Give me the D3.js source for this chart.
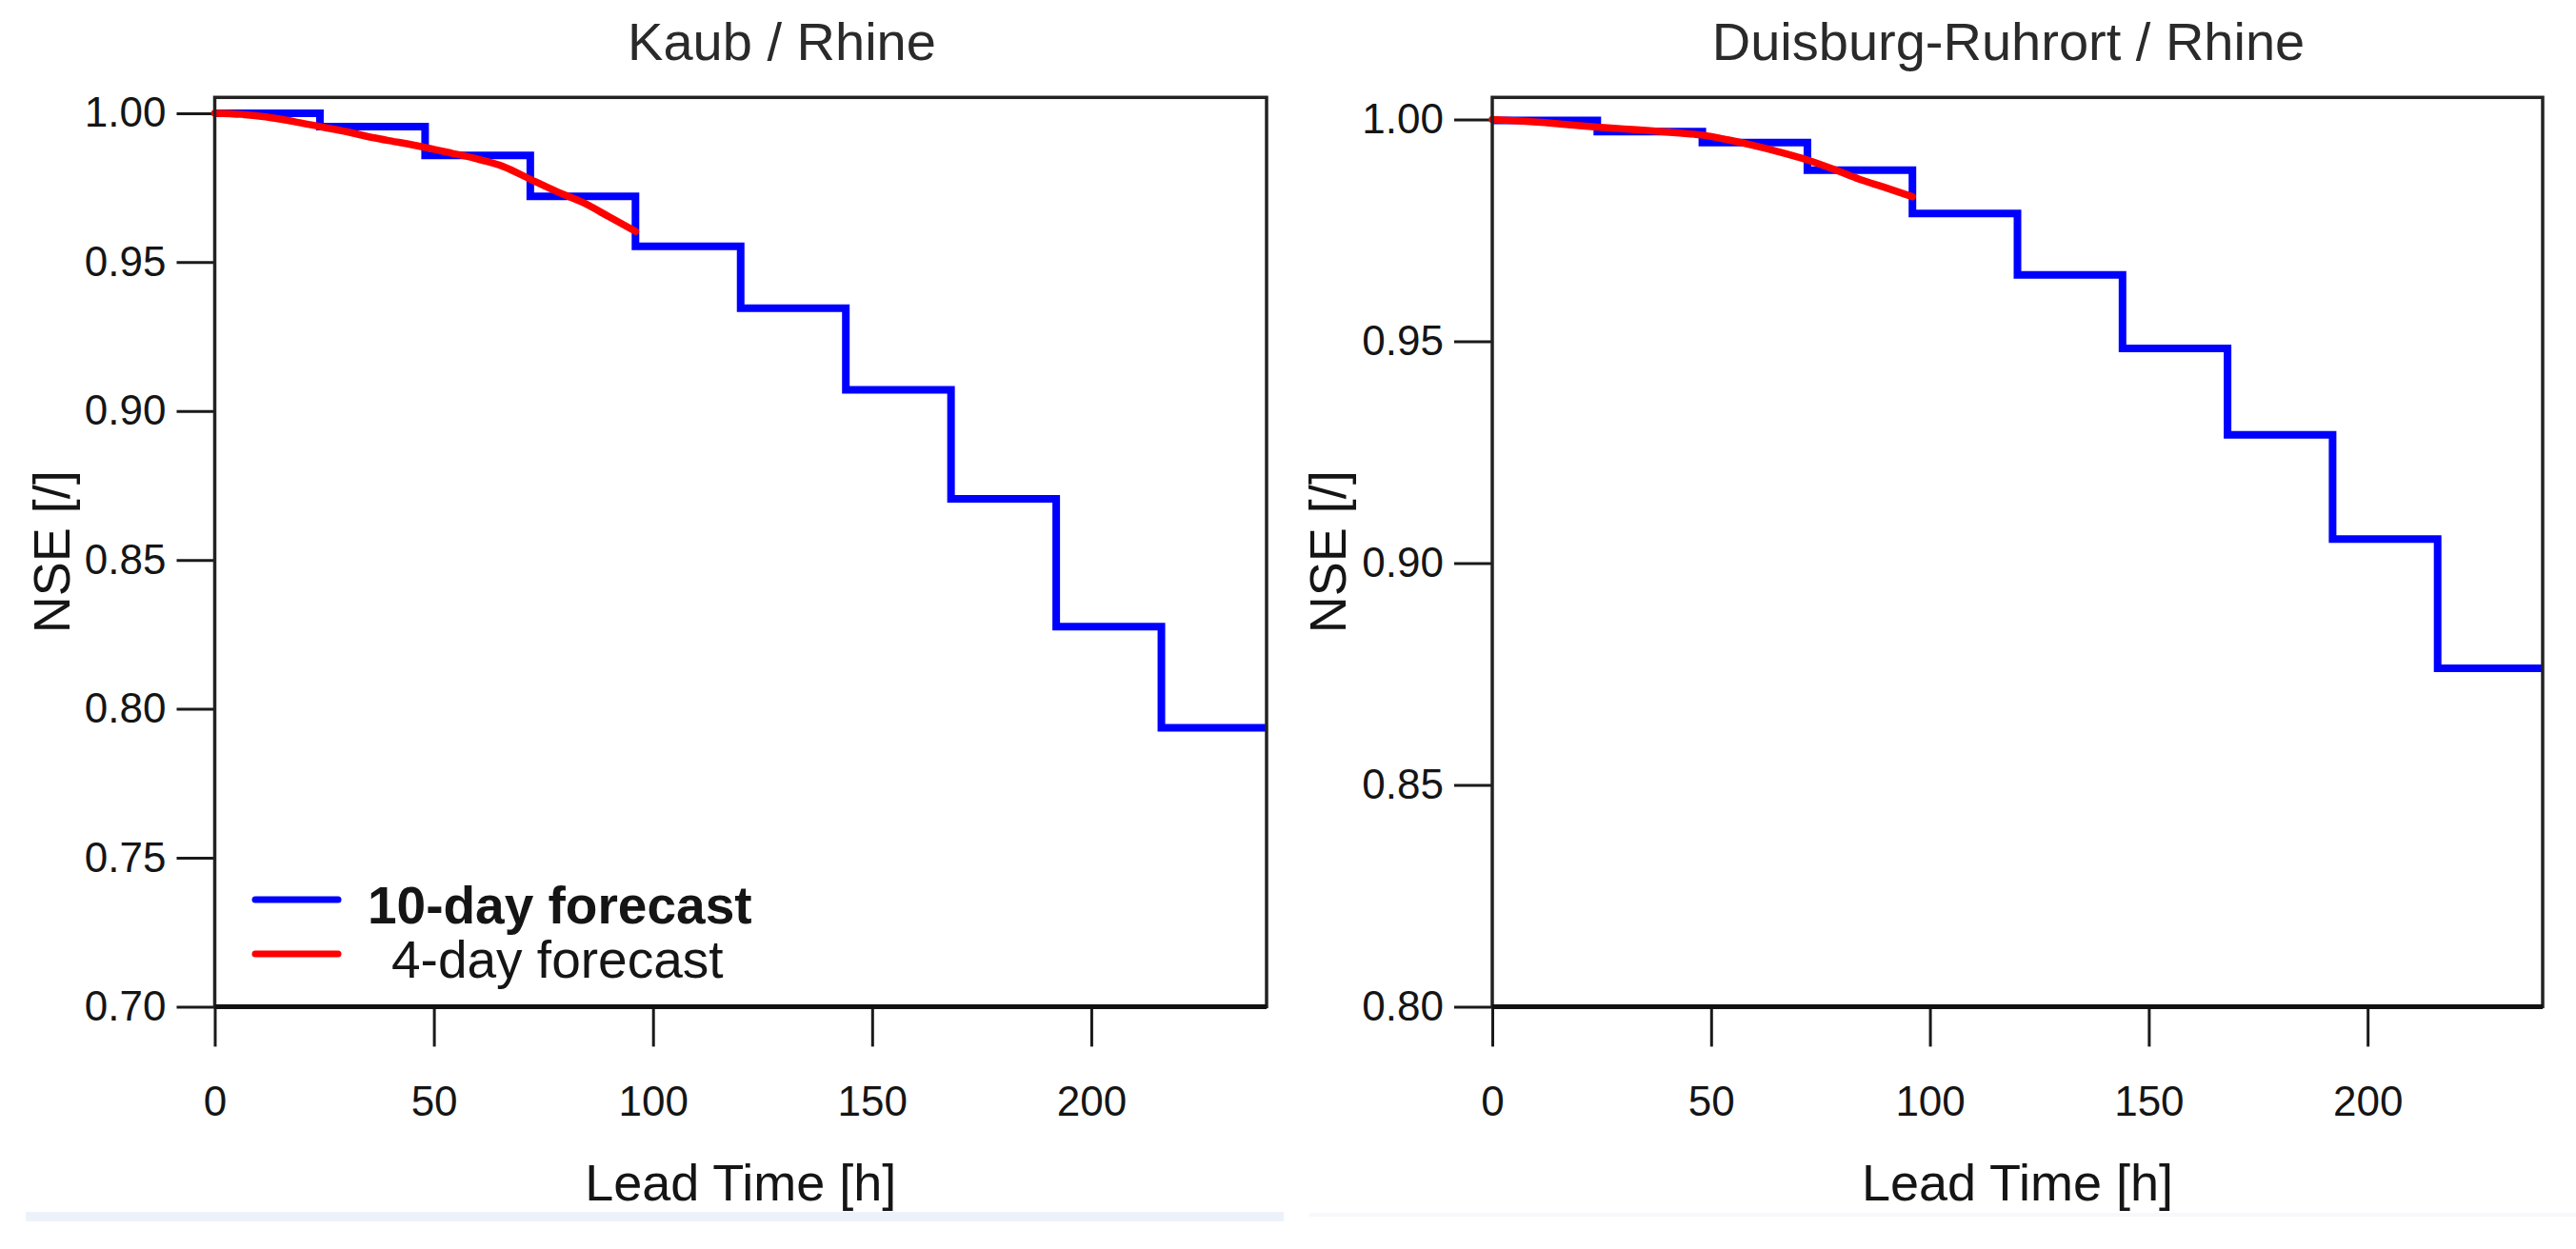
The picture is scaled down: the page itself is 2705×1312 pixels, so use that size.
<!DOCTYPE html>
<html lang="en">
<head>
    <meta charset="UTF-8">
    <title>NSE vs Lead Time</title>
    <script src="https://d3js.org/d3.v7.min.js"></script>
    <style>
        body {
            margin: 0;
            background: #ffffff;
            font-family: 'Liberation Sans', Arial, sans-serif;
        }
        .tick text {
            font-size: 44px;
            fill: #151515;
            font-family: 'Liberation Sans', Arial, sans-serif;
        }
        .tick line {
            stroke: #1a1a1a;
            stroke-width: 3px;
        }
        .title {
            font-size: 56px;
            fill: #2a2a2a;
            text-anchor: middle;
        }
        .axis-label {
            font-size: 54px;
            fill: #151515;
            text-anchor: middle;
        }
        .legend-text {
            font-size: 55px;
            fill: #151515;
        }
    </style>
</head>
<body>
    <div id="chart"></div>

    <script>
        // lead time (h) where each 10-day step starts, last point closes the final step
        const leadSteps = [0, 24, 48, 72, 96, 120, 144, 168, 192, 216, 240];
        const kaub10 = [1.000, 0.9955, 0.9858, 0.9721, 0.9553, 0.9345, 0.9071, 0.8705, 0.8276, 0.7936, 0.7936];
        const duisburg10 = [0.9998, 0.9973, 0.9948, 0.9886, 0.9788, 0.9650, 0.9484, 0.9289, 0.9054, 0.8763, 0.8763];

        // 4-day forecast curve
        const lead4 = [0, 6, 12, 18, 24, 30, 36, 42, 48, 54, 60, 66, 72, 78, 84, 90, 96];
        const kaub4 = [1.000, 0.9996, 0.9987, 0.9972, 0.9955, 0.9938, 0.9918, 0.9902, 0.9885, 0.9866, 0.9846, 0.9820, 0.9778, 0.9737, 0.9700, 0.9652, 0.9603];
        const duisburg4 = [1.000, 0.9997, 0.9993, 0.9988, 0.9983, 0.9979, 0.9975, 0.9970, 0.9965, 0.9954, 0.9941, 0.9926, 0.9909, 0.9888, 0.9865, 0.9846, 0.9826];

        const xTicks = [0, 50, 100, 150, 200];
        const kaubTicks = [0.70, 0.75, 0.80, 0.85, 0.90, 0.95, 1.00];
        const duisburgTicks = [0.80, 0.85, 0.90, 0.95, 1.00];

        const width = 2705;
        const height = 1312;

        const svg = d3.select("#chart")
            .append("svg")
            .attr("width", width)
            .attr("height", height);

        // faint strips under the panels
        svg.append("rect").attr("x", 27).attr("y", 1273).attr("width", 1321).attr("height", 10).attr("fill", "#edf2fa");
        svg.append("rect").attr("x", 1375).attr("y", 1274).attr("width", 1330).attr("height", 4).attr("fill", "#f6f8fb");

        const panels = [
            {title: "Kaub / Rhine", left: 225.5, right: 1330, top: 102.3, bottom: 1057.4,
             yDomain: [0.70, 1.0053], yTicks: kaubTicks, ten: kaub10, four: kaub4,
             titleX: 821, yLabelX: 73, legend: true},
            {title: "Duisburg-Ruhrort / Rhine", left: 1567, right: 2670, top: 102.3, bottom: 1057.4,
             yDomain: [0.80, 1.005], yTicks: duisburgTicks, ten: duisburg10, four: duisburg4,
             titleX: 2109, yLabelX: 1413, legend: false}
        ];

        panels.forEach(p => {
            const x = d3.scaleLinear().domain([0, 240]).range([p.left, p.right]);
            const y = d3.scaleLinear().domain(p.yDomain).range([p.bottom, p.top]);
            const g = svg.append("g");

            // x axis
            g.append("g")
                .attr("transform", `translate(0,${p.bottom})`)
                .call(d3.axisBottom(x).tickValues(xTicks).tickSize(42).tickPadding(41).tickFormat(d3.format("d")))
                .call(a => a.select(".domain").remove());

            // y axis
            g.append("g")
                .attr("transform", `translate(${p.left},0)`)
                .call(d3.axisLeft(y).tickValues(p.yTicks).tickSize(40).tickPadding(11).tickFormat(d3.format(".2f")))
                .call(a => a.select(".domain").remove());

            // step line (10-day)
            const stepLine = d3.line()
                .x((d, i) => x(leadSteps[i]))
                .y(d => y(d))
                .curve(d3.curveStepAfter);

            g.append("path")
                .datum(p.ten)
                .attr("d", stepLine)
                .attr("fill", "none")
                .attr("stroke", "#0000ff")
                .attr("stroke-width", 8);

            // 4-day curve
            const curve = d3.line()
                .x((d, i) => x(lead4[i]))
                .y(d => y(d))
                .curve(d3.curveMonotoneX);

            g.append("path")
                .datum(p.four)
                .attr("d", curve)
                .attr("fill", "none")
                .attr("stroke", "#ff0000")
                .attr("stroke-width", 7.5)
                .attr("stroke-linecap", "round");

            // frame
            g.append("rect")
                .attr("x", p.left)
                .attr("y", p.top)
                .attr("width", p.right - p.left)
                .attr("height", p.bottom - p.top)
                .attr("fill", "none")
                .attr("stroke", "#222")
                .attr("stroke-width", 3.5);
            g.append("line")
                .attr("x1", p.left).attr("x2", p.right)
                .attr("y1", p.bottom).attr("y2", p.bottom)
                .attr("stroke", "#111")
                .attr("stroke-width", 5);

            // titles and labels
            svg.append("text")
                .attr("class", "title")
                .attr("x", p.titleX)
                .attr("y", 63)
                .text(p.title);

            svg.append("text")
                .attr("class", "axis-label")
                .attr("x", (p.left + p.right) / 2)
                .attr("y", 1261)
                .text("Lead Time [h]");

            svg.append("text")
                .attr("class", "axis-label")
                .attr("transform", `translate(${p.yLabelX},${(p.top + p.bottom) / 2}) rotate(-90)`)
                .text("NSE [/]");

            if (p.legend) {
                const items = [
                    {label: "10-day forecast", color: "#0000ff", weight: "bold", dy: 945, tx: 386},
                    {label: "4-day forecast", color: "#ff0000", weight: "normal", dy: 1002, tx: 411}
                ];
                items.forEach(it => {
                    svg.append("line")
                        .attr("x1", 268).attr("x2", 355)
                        .attr("y1", it.dy).attr("y2", it.dy)
                        .attr("stroke", it.color)
                        .attr("stroke-width", 7)
                        .attr("stroke-linecap", "round");
                    svg.append("text")
                        .attr("class", "legend-text")
                        .attr("x", it.tx)
                        .attr("y", it.dy + 6)
                        .attr("dy", "0.35em")
                        .style("font-weight", it.weight)
                        .text(it.label);
                });
            }
        });
    </script>
</body>
</html>
